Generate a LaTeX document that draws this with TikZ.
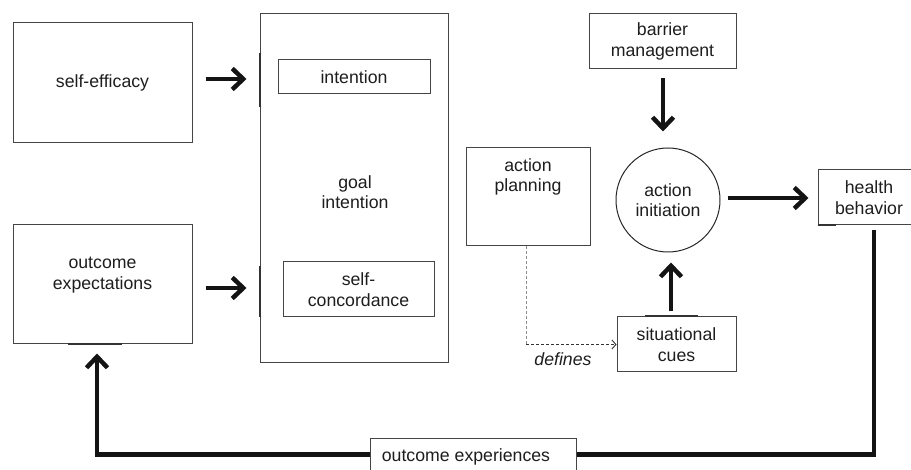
\documentclass[tikz,border=0pt]{standalone}
\usepackage{fontspec}
\setmainfont{Liberation Sans}
\usetikzlibrary{arrows.meta,calc}
\definecolor{boxc}{HTML}{454545}
\definecolor{txtc}{HTML}{1E1E1E}
\newcommand\dfont{\fontsize{17.7}{20.5}\selectfont}
\begin{document}
\begin{tikzpicture}[x=1pt,y=-1pt,
  box/.style={draw=boxc, line width=1pt, fill=white, inner sep=0pt, align=center, font=\dfont, text=txtc},
  txt/.style={inner sep=0pt, align=center, font=\dfont, text=txtc},
  arr/.style={line width=4.5pt, draw=black!92, -{Straight Barb[length=11pt,width=21pt]}},
  bar/.style={line width=2pt, draw=black!80},
  dsh/.style={line width=0.9pt, dashed, dash pattern=on 3pt off 2pt}]
\useasboundingbox (0,0) rectangle (911,470);
\clip (0,0) rectangle (911,470);

% left boxes
\node[box, minimum width=179pt, minimum height=120pt] (selfeff) at (102.5,83) {self-efficacy};
\node[box, minimum width=179pt, minimum height=119pt] (outexp) at (102.5,284.5) {};
\node[txt] (outexptxt) at (102.5,275) {outcome\\expectations};

% goal intention
\node[box, minimum width=188pt, minimum height=349pt] (goal) at (354,188.5) {};
\node[txt] (goaltxt) at (355,192) {goal\\intention};
\node[box, minimum width=152pt, minimum height=34pt] (intent) at (354,77) {intention};
\node[box, minimum width=151pt, minimum height=55pt] (selfconc) at (358.5,289.5) {self-\\concordance};

% right part
\node[box, minimum width=147pt, minimum height=55pt] (barrier) at (662.5,41.5) {barrier\\management};
\node[box, minimum width=124pt, minimum height=98pt] (actplan) at (528,197) {};
\node[txt] (actplantxt) at (528,177) {action\\planning};
\node[draw=black!85, line width=1pt, circle, minimum size=104pt, inner sep=0pt, align=center, font=\dfont, text=txtc] (init) at (668,200) {action\\initiation};
\node[box, minimum width=102pt, minimum height=55pt] (health) at (869,197.5) {health\\behavior};
\node[box, minimum width=119pt, minimum height=55pt] (cues) at (676.5,344.5) {situational\\cues};

% small dark bars on edges
\draw[bar] ($(goal.north west)+(0,40)$) -- ($(goal.north west)+(0,94)$);
\draw[bar] ($(goal.north west)+(0,253)$) -- ($(goal.north west)+(0,304)$);
\draw[bar] ($(outexp.south west)+(55,0)$) -- ($(outexp.south west)+(109,0)$);
\draw[bar] ($(cues.north west)+(28,0)$) -- ($(cues.north west)+(81,0)$);
\draw[bar] (health.south west) -- ($(health.south west)+(18,0)$);

% thick arrows
\draw[arr] ($(selfeff.east)+(13,-4)$) -- ($(goal.west |- selfeff.east)+(-13,-4)$);
\draw[arr] ($(outexp.east)+(13,3.5)$) -- ($(goal.west |- outexp.east)+(-13,3.5)$);
\draw[arr] ($(barrier.south)+(0.5,9)$) -- ($(init.north -| barrier.south)+(0.5,-16)$);
\draw[arr] ($(init.east)+(7,-2)$) -- ($(health.west)+(-9,0.5)$);
\draw[arr] ($(cues.north)+(-5.5,-5)$) -- ($(init.south -| cues.north)+(-5.5,10)$);

% feedback loop
\draw[arr] ($(health.south)+(5,5)$) |- ($(outexp.south)+(-5.5,110)$) -- ($(outexp.south)+(-5.5,9)$);
\node[box, minimum width=206pt, minimum height=40pt] (oebox) at (473,459) {};
\node[txt] (oetxt) at (466,457) {outcome experiences};

% dashed "defines"
\coordinate (ds) at ([xshift=-2pt]actplan.south);
\coordinate (dc) at (ds |- cues.west);
\draw[dsh, draw=black!45] (ds) -- (dc);
\draw[dsh, draw=black!80, -{Straight Barb[length=4pt,width=9pt]}] (dc) -- (cues.west);
\node[txt, font=\dfont\itshape] (deftxt) at (563,359) {defines};
\end{tikzpicture}
\end{document}
